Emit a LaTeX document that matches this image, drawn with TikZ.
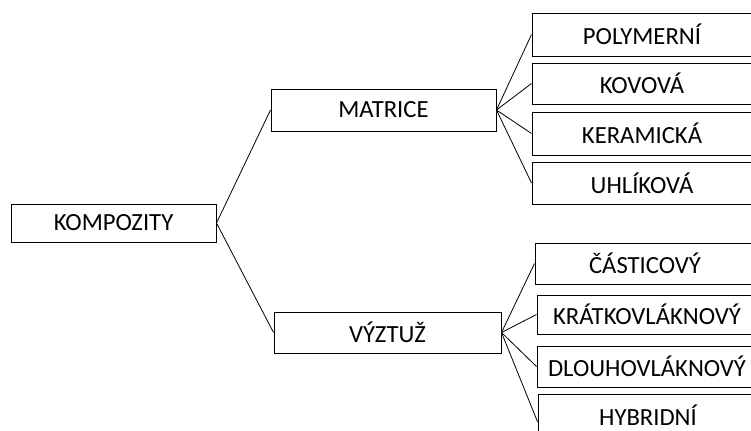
\documentclass[tikz,border=0pt]{standalone}
\usepackage{fontspec}
\setmainfont{Carlito}
\begin{document}
\begin{tikzpicture}[x=0.75pt,y=-0.75pt,
  box/.style={draw, rectangle, line width=0.75pt, inner sep=0pt, font=\fontsize{18.5}{22}\selectfont},
  leaf/.style={box, minimum width=165pt},
  spoj/.style={draw, line width=0.6pt, -}]
\useasboundingbox (0,0) rectangle (751,430);
\clip (0,0) rectangle (751,430);
\node[box, minimum width=153.75pt, minimum height=28.5pt] (1) at (113.5,223) {KOMPOZITY\hspace{10pt}};
\node[box, minimum width=168.75pt, minimum height=31.5pt] (2) at (383.5,110) {MATRICE};
\node[box, minimum width=170.25pt, minimum height=30.75pt] (3) at (387.5,332.5) {VÝZTUŽ};
\node[leaf, minimum height=32.25pt] (4) at (642,34.5) {POLYMERNÍ};
\node[leaf, minimum height=30.75pt] (5) at (642,83.5) {KOVOVÁ};
\node[leaf, minimum height=32.25pt] (6) at (642,133.5) {KERAMICKÁ};
\node[leaf, minimum height=31.5pt] (7) at (642,183) {UHLÍKOVÁ};
\node[leaf, minimum height=30.75pt] (8) at (645,263.5) {ČÁSTICOVÝ};
\node[leaf, minimum height=29.25pt] (9) at (647,314.5) {KRÁTKOVLÁKNOVÝ};
\node[leaf, minimum height=30.75pt] (10) at (647,366.5) {DLOUHOVLÁKNOVÝ};
\node[leaf, minimum height=31.5pt] (11) at (648,415) {HYBRIDNÍ};
\path[spoj] (1.east) -- (2.west);
\path[spoj] (1.east) -- (3.west);
\path[spoj] (2.east) -- (4.west);
\path[spoj] (2.east) -- (5.west);
\path[spoj] (2.east) -- (6.west);
\path[spoj] (2.east) -- (7.west);
\path[spoj] (3.east) -- (8.west);
\path[spoj] (3.east) -- (9.west);
\path[spoj] (3.east) -- (10.west);
\path[spoj] (3.east) -- ([yshift=-5pt]11.west);
\end{tikzpicture}
\end{document}
